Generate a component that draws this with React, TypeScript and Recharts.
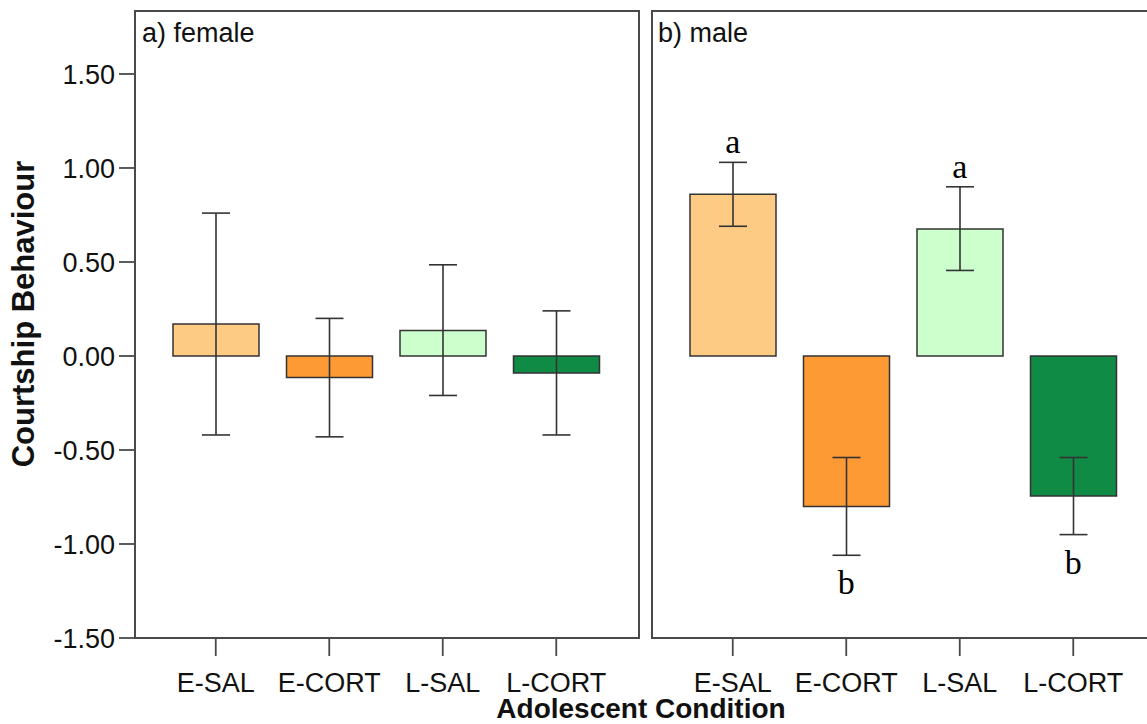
import { BarChart, Bar, XAxis, YAxis, ErrorBar, Cell, ReferenceDot } from "recharts";

// adolescent treatment groups
const conditions = ["E-SAL", "E-CORT", "L-SAL", "L-CORT"];
const barColors = ["#FECB84", "#FE9A34", "#CCFFCC", "#108B45"];

// female courtship scores (mean, lower / upper error bounds)
const femaleMean = [0.17, -0.115, 0.135, -0.09];
const femaleLow = [-0.42, -0.43, -0.21, -0.42];
const femaleHigh = [0.76, 0.2, 0.485, 0.24];

// male courtship scores
const maleMean = [0.86, -0.8, 0.675, -0.745];
const maleLow = [0.69, -1.06, 0.455, -0.95];
const maleHigh = [1.03, -0.54, 0.9, -0.54];
const maleLetters = ["a", "b", "a", "b"];

const yTicks = [-1.5, -1, -0.5, 0, 0.5, 1, 1.5];
const Y_DOMAIN: [number, number] = [-1.5, 1.835];

const FONT = "'Liberation Sans', Arial, sans-serif";
const AXIS = "#4a4a4a";

function buildRows(mean: number[], low: number[], high: number[]) {
  return conditions.map((cond, i) => ({
    cond,
    mean: mean[i],
    err: [mean[i] - low[i], high[i] - mean[i]],
  }));
}

const femaleRows = buildRows(femaleMean, femaleLow, femaleHigh);
const maleRows = buildRows(maleMean, maleLow, maleHigh);

// letter placed above an upper whisker or below a lower one
function letterLabel(text: string, below: boolean) {
  return (props: any) => {
    const vb = props.viewBox || {};
    const cx = vb.x + (vb.width || 0) / 2;
    const cy = vb.y + (vb.height || 0) / 2;
    return (
      <text
        x={cx}
        y={below ? cy + 39 : cy - 9}
        textAnchor="middle"
        fontFamily="'Liberation Serif', 'Times New Roman', serif"
        fontSize={34}
        fill="#000"
      >
        {text}
      </text>
    );
  };
}

function Panel({
  rows,
  width,
  margin,
  showTicks,
  letters,
}: {
  rows: any[];
  width: number;
  margin: { top: number; right: number; bottom: number; left: number };
  showTicks: boolean;
  letters?: string[];
}) {
  return (
    <BarChart width={width} height={724} data={rows} margin={margin} barSize={86}>
      <XAxis
        dataKey="cond"
        interval={0}
        height={60}
        padding={{ left: 24, right: 26 }}
        axisLine={false}
        tickSize={18}
        tickMargin={17}
        stroke={AXIS}
        strokeWidth={1.8}
        tick={{ fill: "#111", fontSize: 27, fontFamily: FONT }}
      />
      <YAxis
        domain={Y_DOMAIN}
        allowDataOverflow
        ticks={yTicks}
        interval={0}
        width={showTicks ? 135 : 0}
        hide={!showTicks}
        axisLine={false}
        tick={{ fill: "#111", fontSize: 27, fontFamily: FONT }}
        tickSize={16}
        tickMargin={4}
        tickFormatter={(v: number) => v.toFixed(2)}
        stroke={AXIS}
        strokeWidth={1.8}
      />
      <Bar dataKey="mean" stroke="#333" strokeWidth={1.5} isAnimationActive={false}>
        {rows.map((r, i) => (
          <Cell key={r.cond} fill={barColors[i]} />
        ))}
        <ErrorBar
          dataKey="err"
          direction="y"
          width={14}
          stroke="#333"
          strokeWidth={1.6}
          isAnimationActive={false}
        />
      </Bar>
      {letters &&
        rows.map((r, i) => {
          const below = r.mean < 0;
          const y = below ? r.mean - r.err[0] : r.mean + r.err[1];
          return (
            <ReferenceDot
              key={"l" + i}
              x={r.cond}
              y={y}
              r={0}
              stroke="none"
              fill="none"
              label={letterLabel(letters[i], below)}
            />
          );
        })}
    </BarChart>
  );
}

// frame drawn around each panel's plot area
const frameStyle = {
  position: "absolute" as const,
  top: 10,
  width: 506,
  height: 629,
  border: `2px solid ${AXIS}`,
  boxSizing: "border-box" as const,
  pointerEvents: "none" as const,
};

export default function App() {
  return (
    <div
      style={{
        position: "fixed",
        left: 0,
        top: 0,
        width: 1147,
        height: 724,
        overflow: "hidden",
        background: "#fff",
      }}
    >
      <div style={{ position: "absolute", left: 0, top: 0 }}>
        <Panel
          rows={femaleRows}
          width={645}
          margin={{ top: 11, right: 6, bottom: 26, left: 0 }}
          showTicks
        />
      </div>
      <div style={{ position: "absolute", left: 640, top: 0 }}>
        <Panel
          rows={maleRows}
          width={530}
          margin={{ top: 11, right: 14, bottom: 26, left: 12 }}
          showTicks={false}
          letters={maleLetters}
        />
      </div>
      <div style={{ ...frameStyle, left: 134 }} />
      <div style={{ ...frameStyle, left: 651 }} />
      <svg
        width={1147}
        height={724}
        style={{ position: "absolute", left: 0, top: 0, pointerEvents: "none" }}
      >
        <text x={142} y={42} fontFamily={FONT} fontSize={27} fill="#111">
          a) female
        </text>
        <text x={658} y={42} fontFamily={FONT} fontSize={27} fill="#111">
          b) male
        </text>
        <text
          x={641}
          y={718}
          textAnchor="middle"
          fontFamily={FONT}
          fontSize={28}
          fontWeight="bold"
          fill="#111"
        >
          Adolescent Condition
        </text>
        <text
          x={34}
          y={314}
          transform="rotate(-90, 34, 314)"
          textAnchor="middle"
          fontFamily={FONT}
          fontSize={31}
          fontWeight="bold"
          fill="#111"
        >
          Courtship Behaviour
        </text>
      </svg>
    </div>
  );
}
